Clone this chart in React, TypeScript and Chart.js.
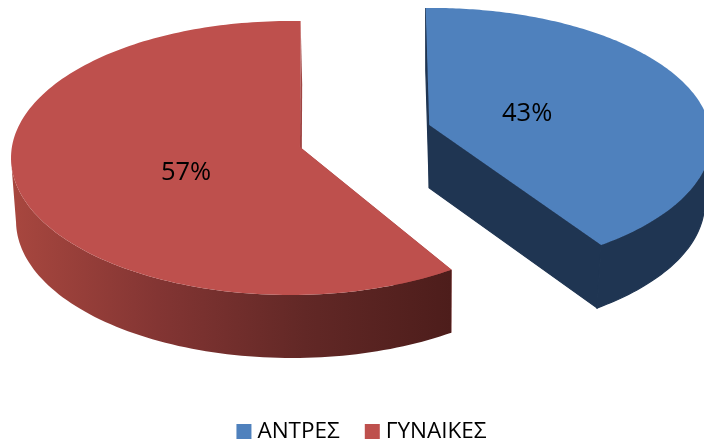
import React, { useEffect, useRef } from "react";
import { Chart, registerables, PieController } from "chart.js";

// ---- data ----
const categories = ["ΑΝΤΡΕΣ", "ΓΥΝΑΙΚΕΣ"];
const shares = [43, 57];
const shareLabels = ["43%", "57%"];
const sliceColors = ["#4F81BD", "#BE504D"];

// ---- look ----
const FONT = '"Open Sans", "Noto Sans", sans-serif';
const ROTATION = -1.9;
const OFFSETS = [147, 0];
const RADIUS = 279;
const SQUASH = 0.491;
const DEPTH = 63;
const VANISH_X = 430;
const VIEWS = [
  { squash: 0.473, apex: [-0.011, -0.114], rim: [0, -0.166], labelAt: 0.35, nudge: [14, 8], shrink: 0.024, cut: "#1F3552", wall: ["#1F3552", "#1F3552"] },
  { squash: 0.491, apex: [0.0358, -0.0803], rim: [0.0358, -0.0803], labelAt: 0.4, nudge: [1, 15], shrink: 0.012, cut: "#A04543", wall: ["#A8473F", "#833533", "#622826", "#4D1D1B"] },
];

type Pt = { x: number; y: number };

function sliceGeometry(el: any, i: number) {
  const p = el.getProps(["x", "y", "startAngle", "endAngle", "outerRadius"], true);
  const view = VIEWS[i];
  const mid = (p.startAngle + p.endAngle) / 2;
  const off = el.options.offset || 0;
  const cx = p.x + Math.cos(mid) * off;
  const cy = p.y + Math.sin(mid) * off * SQUASH;
  const a = p.outerRadius;
  const b = p.outerRadius * view.squash;
  const [qx, qy] = view.rim;
  const rimAt = (t: number): Pt => {
    // circle-preserving remap: the wedge tip is off the ellipse centre, as in a perspective view
    const wx = Math.cos(t);
    const wy = Math.sin(t);
    const nx = wx + qx;
    const ny = wy + qy;
    const dx = 1 + qx * wx + qy * wy;
    const dy = qx * wy - qy * wx;
    const d = dx * dx + dy * dy;
    return { x: cx + (a * (nx * dx + ny * dy)) / d, y: cy + (b * (ny * dx - nx * dy)) / d };
  };
  const apex: Pt = { x: cx + a * view.apex[0], y: cy + b * view.apex[1] };
  const rim: Pt[] = [];
  const steps = 160;
  for (let s = 0; s <= steps; s++) rim.push(rimAt(p.startAngle + ((p.endAngle - p.startAngle) * s) / steps));
  return { apex, rim, mid: rimAt(mid), view, cy };
}

function fillPoly(ctx: CanvasRenderingContext2D, pts: Pt[], fill: any, seal = false) {
  ctx.beginPath();
  pts.forEach((q, n) => (n ? ctx.lineTo(q.x, q.y) : ctx.moveTo(q.x, q.y)));
  ctx.closePath();
  ctx.fillStyle = fill;
  ctx.fill();
  if (seal) {
    ctx.strokeStyle = fill;
    ctx.lineWidth = 1.2;
    ctx.stroke();
  }
}

class Pie3DController extends PieController {
  static id = "pie3d";
  static defaults = {};
  draw() {
    const ctx = this.chart.ctx as CanvasRenderingContext2D;
    const arcs = this.getMeta().data;
    arcs.forEach((el: any, i: number) => {
      const { apex, rim, view, cy } = sliceGeometry(el, i);
      const below = (q: Pt): Pt => ({ x: q.x + (VANISH_X - q.x) * view.shrink, y: q.y + DEPTH });
      const first = rim[0];
      const last = rim[rim.length - 1];
      fillPoly(ctx, [apex, first, below(first), below(apex)], view.cut, i === 0);
      fillPoly(ctx, [apex, last, below(last), below(apex)], view.cut, i === 0);
      const front = rim.filter((q) => q.y >= cy);
      const xs = front.map((q) => q.x);
      const g = ctx.createLinearGradient(Math.min(...xs), 0, Math.max(...xs), 0);
      view.wall.forEach((c, n) => g.addColorStop(n / (view.wall.length - 1), c));
      fillPoly(ctx, [...front, ...front.slice().reverse().map(below)], g, i === 0);
      fillPoly(ctx, [apex, ...rim], el.options.backgroundColor);
    });
  }
}

Chart.register(...registerables, Pie3DController as any);

const textPlugin = {
  id: "textPlugin",
  afterDraw(chart: any) {
    const ctx = chart.ctx as CanvasRenderingContext2D;
    ctx.save();
    ctx.fillStyle = "#000";
    ctx.font = `25.5px ${FONT}`;
    ctx.textAlign = "center";
    ctx.textBaseline = "middle";
    chart.getDatasetMeta(0).data.forEach((el: any, i: number) => {
      const { apex, mid, view } = sliceGeometry(el, i);
      ctx.fillText(
        shareLabels[i],
        apex.x + (mid.x - apex.x) * view.labelAt + view.nudge[0],
        apex.y + (mid.y - apex.y) * view.labelAt + view.nudge[1]
      );
    });
    // legend
    ctx.font = `22.5px ${FONT}`;
    ctx.textAlign = "left";
    ctx.textBaseline = "alphabetic";
    const box = 15;
    const gap = 6;
    const between = 25;
    const widths = categories.map((c) => ctx.measureText(c).width);
    const total = widths.reduce((s, w) => s + w + box + gap, 0) + between * (categories.length - 1);
    let x = 361.5 - total / 2;
    categories.forEach((c, i) => {
      ctx.fillStyle = sliceColors[i];
      ctx.fillRect(x, 424, box, box);
      ctx.fillStyle = "#000";
      ctx.fillText(c, x + box + gap, 438);
      x += box + gap + widths[i] + between;
    });
    ctx.restore();
  },
};

export default function App() {
  const ref = useRef<HTMLCanvasElement>(null);
  useEffect(() => {
    const chart = new Chart(ref.current as HTMLCanvasElement, {
      type: "pie3d" as any,
      data: {
        labels: categories,
        datasets: [{ data: shares, backgroundColor: sliceColors, borderWidth: 0, offset: OFFSETS } as any],
      },
      options: {
        animation: false,
        responsive: false,
        rotation: ROTATION,
        radius: RADIUS,
        layout: { padding: { right: 124, bottom: 125 } },
        plugins: { legend: { display: false }, tooltip: { enabled: false } },
      } as any,
      plugins: [textPlugin],
    });
    return () => chart.destroy();
  }, []);
  return (
    <div style={{ position: "absolute", left: 0, top: 0, width: 704, height: 441, background: "#fff", overflow: "hidden" }}>
      <canvas ref={ref} width={704} height={441} style={{ display: "block" }} />
    </div>
  );
}
